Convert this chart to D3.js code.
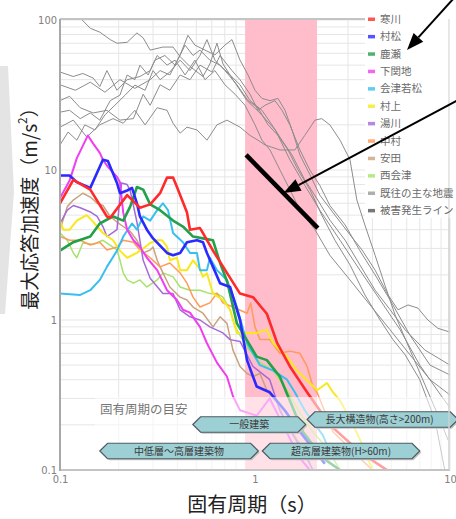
<!DOCTYPE html>
<html>
<head>
<meta charset="utf-8">
<script src="https://cdn.jsdelivr.net/npm/d3@7"></script>
<style>
  body { margin: 0; background: #fff; }
  svg { display: block; }
</style>
</head>
<body>
<script>
// ---- data: [period (s), max response acceleration (m/s2)] ----
const stationNames = ["寒川", "村松", "鹿瀬", "下関地", "会津若松", "村上", "湯川", "中村", "安田", "西会津"];
const stationColors = ["#ff2a2a", "#2a2aff", "#22a04a", "#f03ef0", "#38bff0", "#f8e81c", "#a56ad8", "#ff9a5a", "#c9a27e", "#a6e36a"];
const stationWidths = [2.6, 2.6, 2.6, 2, 2, 2, 1.5, 1.5, 1.5, 1.5];

const kankawa = [[0.1,6.0],[0.117,8.6],[0.143,7.4],[0.174,4.9],[0.181,4.8],[0.221,6.8],[0.257,5.6],[0.29,5.9],[0.326,7.0],[0.354,8.9],[0.38,8.9],[0.398,7.7],[0.448,5.2],[0.464,4.0],[0.522,4.1],[0.541,3.8],[0.609,2.9],[0.718,2.06],[0.838,1.5],[0.977,1.42],[1.06,1.25],[1.15,1.1],[1.3,0.7],[1.51,0.49],[1.85,0.33],[2.42,0.2],[3.5,0.13],[4.75,0.1]];
const muramatsu = [[0.1,9.2],[0.112,9.2],[0.122,8.3],[0.143,7.6],[0.166,11.7],[0.176,11.5],[0.196,8.2],[0.203,7.0],[0.221,7.3],[0.234,7.6],[0.248,6.0],[0.257,4.9],[0.279,4.0],[0.3,3.5],[0.354,2.8],[0.38,2.7],[0.413,2.8],[0.448,3.3],[0.504,3.4],[0.541,3.3],[0.567,2.8],[0.609,2.26],[0.662,1.76],[0.745,1.66],[0.838,1.0],[0.91,0.54],[1.02,0.36],[1.19,0.33],[1.42,0.25],[1.7,0.18],[2.28,0.11]];
const kanose = [[0.1,2.9],[0.117,3.3],[0.143,3.6],[0.16,4.4],[0.187,4.9],[0.211,4.6],[0.229,5.7],[0.248,7.7],[0.267,7.4],[0.29,5.9],[0.326,5.4],[0.38,4.6],[0.427,4.2],[0.481,3.6],[0.541,3.5],[0.609,3.4],[0.662,2.4],[0.72,1.8],[0.808,0.95],[1.02,0.57],[1.15,0.54],[1.34,0.42],[1.51,0.29],[1.76,0.18],[2.23,0.12],[2.73,0.1]];
const shimoseki = [[0.1,6.5],[0.112,8.5],[0.122,12],[0.139,17],[0.148,15],[0.16,13],[0.166,11.7],[0.176,10.5],[0.196,9],[0.203,8.3],[0.211,5.2],[0.221,4.0],[0.238,3.4],[0.257,3.07],[0.279,2.6],[0.315,2.15],[0.354,1.58],[0.398,1.36],[0.427,1.17],[0.464,1.12],[0.522,0.9],[0.567,0.7],[0.638,0.52],[0.718,0.42],[0.771,0.31],[0.838,0.25],[1.02,0.23],[1.19,0.3],[1.39,0.2],[1.7,0.12],[1.91,0.1]];
const aizuwakamatsu = [[0.1,1.5],[0.127,1.47],[0.143,1.58],[0.16,1.85],[0.174,2.26],[0.196,2.9],[0.211,3.6],[0.234,4.4],[0.248,4.0],[0.267,4.9],[0.29,4.6],[0.315,5.4],[0.337,6.0],[0.358,5.4],[0.38,3.8],[0.427,3.3],[0.464,2.8],[0.504,2.8],[0.522,2.15],[0.567,2.15],[0.587,2.6],[0.638,2.15],[0.718,1.85],[0.808,1.22],[0.91,0.7],[1.06,0.5],[1.24,0.46],[1.46,0.4],[1.6,0.33],[1.8,0.25],[2.23,0.17],[2.5,0.12]];
const murakami = [[0.1,4.6],[0.104,4.0],[0.112,4.0],[0.122,4.6],[0.137,5.0],[0.146,4.6],[0.155,4.2],[0.166,3.8],[0.187,3.4],[0.203,2.9],[0.221,2.6],[0.248,2.8],[0.267,3.0],[0.29,3.26],[0.315,3.4],[0.334,3.4],[0.354,3.07],[0.366,2.5],[0.398,2.6],[0.413,2.15],[0.448,2.15],[0.481,2.5],[0.52,2.2],[0.541,1.94],[0.567,2.05],[0.609,1.5],[0.685,1.36],[0.745,1.17],[0.808,0.82],[0.91,0.82],[1.02,0.82],[1.15,0.86],[1.24,0.7],[1.34,0.63],[1.46,0.57],[1.64,0.46],[1.91,0.38],[2.08,0.34],[2.34,0.38],[2.51,0.33],[2.73,0.29],[3.07,0.22],[3.45,0.16],[3.89,0.11],[4.02,0.1]];
const yukawa = [[0.1,4.4],[0.109,5.4],[0.117,5.8],[0.127,5.6],[0.143,5.25],[0.155,4.9],[0.166,4.2],[0.174,3.6],[0.196,4.0],[0.203,6.6],[0.207,8.2],[0.221,8.0],[0.229,7.3],[0.248,4.5],[0.267,2.5],[0.29,1.9],[0.337,1.5],[0.38,1.5],[0.413,1.17],[0.464,1.05],[0.522,1.0],[0.587,0.9],[0.685,0.82],[0.745,0.74],[0.838,0.72],[0.977,0.49],[1.19,0.4],[1.34,0.25],[1.57,0.17],[1.85,0.12],[1.98,0.1]];
const nakamura = [[0.1,3.6],[0.112,3.4],[0.127,3.4],[0.143,3.16],[0.16,3.3],[0.174,2.93],[0.196,3.07],[0.211,3.4],[0.238,3.3],[0.257,2.93],[0.29,2.6],[0.326,2.26],[0.366,2.4],[0.413,2.06],[0.448,1.76],[0.481,1.42],[0.522,1.22],[0.587,1.3],[0.638,1.51],[0.685,1.3],[0.771,1.22],[0.91,1.11],[0.95,1.3],[1.0,0.9],[1.06,0.74],[1.19,0.74],[1.34,0.6],[1.51,0.62],[1.7,0.6],[1.85,0.49],[1.98,0.36],[2.08,0.33],[2.51,0.18],[3.45,0.12],[4.0,0.1]];
const yasuda = [[0.1,4.0],[0.109,5.7],[0.117,6.3],[0.131,7.0],[0.143,6.6],[0.155,6.0],[0.166,5.8],[0.181,4.9],[0.196,4.5],[0.211,4.2],[0.229,3.9],[0.248,3.4],[0.267,2.8],[0.29,2.93],[0.3,3.07],[0.315,2.5],[0.337,2.06],[0.366,1.66],[0.413,1.42],[0.448,1.36],[0.481,1.22],[0.541,1.11],[0.609,0.9],[0.662,1.05],[0.718,0.95],[0.771,0.63],[0.838,0.49],[0.91,0.44],[0.977,0.42],[1.06,0.44],[1.15,0.34],[1.3,0.28],[1.46,0.2],[1.7,0.15],[1.91,0.11]];
const nishiaizu = [[0.1,3.8],[0.109,3.4],[0.117,2.8],[0.122,2.6],[0.131,3.26],[0.148,3.2],[0.166,3.4],[0.196,2.93],[0.203,2.5],[0.211,2.06],[0.221,1.85],[0.238,1.76],[0.257,1.85],[0.279,1.66],[0.315,1.85],[0.337,2.06],[0.38,1.94],[0.413,1.66],[0.464,1.58],[0.522,1.58],[0.587,1.5],[0.638,1.5],[0.685,1.42],[0.745,1.17],[0.79,0.9],[0.91,0.66],[1.06,0.52],[1.24,0.46],[1.46,0.34],[1.7,0.24],[1.98,0.18],[2.34,0.14],[2.73,0.1]];

// past major earthquakes (gray)
const past1 = [[0.1,126],[0.13,100],[0.143,88],[0.16,83],[0.181,74],[0.196,70],[0.221,71],[0.248,82],[0.267,76],[0.29,63],[0.337,66],[0.38,66],[0.413,57],[0.464,49],[0.541,42],[0.587,51],[0.638,70],[0.685,51],[0.771,40],[0.91,29],[1.06,24],[1.27,18.5],[1.51,11.7],[1.8,7.9],[2.15,5.4],[2.73,3.4],[3.45,2.15],[4.38,1.36],[5.55,0.86],[7.0,0.5],[8.9,0.32],[10,0.26]];
const past2 = [[0.1,45],[0.117,42],[0.131,44],[0.148,41],[0.16,36],[0.174,46],[0.196,34],[0.221,40],[0.257,42],[0.29,46],[0.315,58],[0.354,50],[0.389,54],[0.438,43],[0.492,54],[0.554,40],[0.623,46],[0.701,37],[0.79,32],[0.889,27],[1.0,20],[1.086,15.8],[1.194,13.6],[1.343,10],[1.51,7.4],[1.7,5.4],[2.03,4.0],[2.42,2.7],[3.07,1.85],[3.89,1.26],[4.93,0.86],[6.24,0.585],[7.9,0.4],[10,0.316]];
const past3 = [[0.1,29],[0.112,31],[0.127,26],[0.148,24],[0.174,25],[0.203,21.5],[0.238,22],[0.267,32],[0.29,27],[0.326,37],[0.366,34],[0.413,43],[0.464,40],[0.522,50],[0.602,45],[0.662,58],[0.762,46],[0.838,40],[0.943,32],[1.036,25],[1.125,27],[1.266,29],[1.375,25],[1.51,20],[1.7,13.6],[1.91,10],[2.15,7.9],[2.42,5.8],[2.9,4.3],[3.45,2.9],[4.13,2.0],[4.93,1.36],[6.24,0.79],[7.9,0.5],[10,0.43]];
const past4 = [[0.1,19.3],[0.117,21.5],[0.137,16.6],[0.16,20],[0.187,22],[0.211,20.5],[0.242,25],[0.273,20],[0.315,26],[0.354,25],[0.38,20.5],[0.413,17.6],[0.448,19.3],[0.504,18.5],[0.567,15.8],[0.638,20],[0.718,21.5],[0.838,19.3],[0.943,17],[1.036,15.8],[1.125,14.7],[1.343,13.6],[1.6,13.6],[1.8,17],[2.03,21.5],[2.2,22],[2.42,20],[2.73,15.8],[3.07,11.7],[3.33,6.3],[3.66,4.3],[4.13,2.7],[4.64,1.7],[5.23,1.08],[6.24,0.63],[7.44,0.37],[8.9,0.215],[9.78,0.158]];
const past5 = [[0.1,24.3],[0.112,25],[0.127,22],[0.143,24],[0.16,21.5],[0.181,29],[0.203,31.6],[0.221,43],[0.242,40],[0.257,50],[0.283,43],[0.307,54],[0.345,58],[0.389,50],[0.438,68],[0.481,58],[0.522,63],[0.587,54],[0.662,50],[0.745,43],[0.838,37],[0.943,29],[1.086,25],[1.222,20],[1.375,15.8],[1.548,12.6],[1.8,8.6],[2.1,6.3],[2.42,4.64],[2.9,3.4],[3.45,2.33],[4.13,1.58],[4.93,1.17],[5.89,0.86],[7.44,0.63],[10,0.5]];
const past6 = [[0.1,14.7],[0.11,17.9],[0.122,15.8],[0.134,20],[0.151,18.5],[0.17,23.3],[0.191,27],[0.216,31.6],[0.242,36.8],[0.273,34],[0.3,46],[0.326,40],[0.366,45],[0.413,54],[0.464,46],[0.522,58],[0.567,74],[0.623,54],[0.701,46],[0.808,37],[0.921,29],[1.036,26],[1.166,20],[1.312,17],[1.477,13.6],[1.662,10],[1.913,7.4],[2.2,5.0],[2.57,3.4],[3.07,2.33],[3.66,1.47],[4.38,1.0],[5.1,0.74],[5.89,0.585],[7.0,0.4],[8.38,0.215],[9.4,0.1]];
const past7 = [[0.1,37],[0.12,34],[0.143,38.5],[0.17,33],[0.203,40],[0.242,35],[0.29,40],[0.326,46],[0.366,43],[0.413,58.5],[0.453,79],[0.492,68],[0.554,63],[0.623,58.5],[0.701,68],[0.762,74],[0.838,54],[0.921,43],[1.0,34],[1.086,30],[1.194,29],[1.312,30],[1.425,25],[1.548,18.5],[1.7,12.6],[1.913,9.3],[2.15,6.8],[2.57,5.0],[3.07,3.7],[3.54,2.93],[4.13,2.15],[4.81,1.47],[5.41,1.17],[6.09,1.26],[6.85,1.2],[7.7,1.0],[8.67,0.88],[10,0.83]];

const damageLine = [[0.9, 12.6], [2.1, 4.1]];
const periodBand = [0.89, 2.08];

const legendLabels = ["寒川", "村松", "鹿瀬", "下関地", "会津若松", "村上", "湯川", "中村", "安田", "西会津", "既往の主な地震", "被害発生ライン"];

// building type period ranges (s)
const bldgLabels = ["一般建築", "長大構造物(高さ>200m)", "中低層～高層建築物", "超高層建築物(H>60m)"];
const bldgRanges = [[0.48, 1.82], [1.85, 11], [0.16, 1.04], [1.09, 7.0]];
const bldgRow = [0, 0, 1, 1];

// ---- chart ----
const width = 456, height = 519;
const x = d3.scaleLog().domain([0.1, 10]).range([60, 450]);
const y = d3.scaleLog().domain([0.1, 100]).range([470, 20]);

const svg = d3.select("body").append("svg")
    .attr("width", width)
    .attr("height", height);

svg.append("rect").attr("width", width).attr("height", height).attr("fill", "#fff");

// left chevron decoration
svg.append("polygon")
    .attr("points", "0,66 8,66 14,192 5,314 0,314")
    .attr("fill", "#e4e4e4");

svg.append("defs").append("clipPath").attr("id", "plot")
    .append("rect").attr("x", 60).attr("y", 20).attr("width", 390).attr("height", 450);

// grid
const xGrid = [], yGrid = [];
[0.1, 1].forEach(d => { for (let k = 1; k <= 9; k++) xGrid.push(k * d); });
xGrid.push(10);
[0.1, 1, 10].forEach(d => { for (let k = 1; k <= 9; k++) yGrid.push(k * d); });
yGrid.push(100);

const grid = svg.append("g");
grid.selectAll(".vg").data(xGrid).enter().append("line")
    .attr("x1", d => x(d)).attr("x2", d => x(d))
    .attr("y1", 20).attr("y2", 470)
    .attr("stroke", "#e6e6e6").attr("stroke-width", 1);
grid.selectAll(".hg").data(yGrid).enter().append("line")
    .attr("x1", 60).attr("x2", 450)
    .attr("y1", d => y(d)).attr("y2", d => y(d))
    .attr("stroke", "#e6e6e6").attr("stroke-width", 1);

// 1-2 s band
svg.append("rect")
    .attr("x", x(periodBand[0])).attr("width", x(periodBand[1]) - x(periodBand[0]))
    .attr("y", 20).attr("height", 450)
    .attr("fill", "#ffbccb");

const line = d3.line().x(d => x(d[0])).y(d => y(d[1]));
const plot = svg.append("g").attr("clip-path", "url(#plot)");

const pastQuakes = [past1, past2, past3, past4, past5, past6, past7];
plot.selectAll(".past").data(pastQuakes).enter().append("path")
    .attr("d", line)
    .attr("fill", "none")
    .attr("stroke", "#8c8c8c")
    .attr("stroke-width", 1);

const stationSeries = [kankawa, muramatsu, kanose, shimoseki, aizuwakamatsu, murakami, yukawa, nakamura, yasuda, nishiaizu];
const order = d3.range(stationSeries.length).reverse();
plot.selectAll(".st").data(order).enter().append("path")
    .attr("d", i => line(stationSeries[i]))
    .attr("fill", "none")
    .attr("stroke", i => stationColors[i])
    .attr("stroke-width", i => stationWidths[i])
    .attr("stroke-linejoin", "round");

plot.append("path")
    .attr("d", line(damageLine))
    .attr("stroke", "#000")
    .attr("stroke-width", 4.5);

// faded area behind the building-type labels
svg.append("rect")
    .attr("x", 95).attr("y", 397).attr("width", 355).attr("height", 72)
    .attr("fill", "#fff").attr("opacity", 0.55);

svg.append("text")
    .attr("x", 100).attr("y", 414)
    .attr("font-family", "Noto Sans CJK JP").attr("font-size", 12.5)
    .attr("fill", "#777")
    .text("固有周期の目安");

const rowY = [424.5, 451];
const rowY2 = [419.5, 451];
const hexH = 15.5;
const hex = (x0, x1, yc, h) => {
    const a = h / 2;
    return `M${x0},${yc} L${x0 + a},${yc - a} L${x1 - a},${yc - a} L${x1},${yc} L${x1 - a},${yc + a} L${x0 + a},${yc + a} Z`;
};
const bldg = svg.append("g");
bldgLabels.forEach((label, i) => {
    const x0 = x(bldgRanges[i][0]), x1 = x(bldgRanges[i][1]);
    const yc = i === 1 ? rowY2[0] : rowY[bldgRow[i]];
    bldg.append("path").attr("d", hex(x0 + 1.5, x1 + 1.5, yc + 1.5, hexH)).attr("fill", "#c4c4c4");
    bldg.append("path").attr("d", hex(x0, x1, yc, hexH))
        .attr("fill", "#9dd0d4").attr("stroke", "#4d5b60").attr("stroke-width", 1.2);
    bldg.append("text")
        .attr("x", (x0 + Math.min(x1, 452)) / 2).attr("y", yc)
        .attr("dy", "0.36em")
        .attr("text-anchor", "middle")
        .attr("font-family", "Noto Sans CJK JP").attr("font-size", 10)
        .attr("fill", "#3a3a3a")
        .text(label);
});

// frame
const frame = svg.append("g").attr("fill", "none");
frame.append("line").attr("x1", 60).attr("x2", 450).attr("y1", 470).attr("y2", 470).attr("stroke", "#c4c4c4").attr("stroke-width", 2);
frame.append("line").attr("x1", 60).attr("x2", 450).attr("y1", 19).attr("y2", 19).attr("stroke", "#c4c4c4").attr("stroke-width", 2);
frame.append("line").attr("x1", 60).attr("x2", 60).attr("y1", 19).attr("y2", 471).attr("stroke", "#a8a8a8").attr("stroke-width", 2);
svg.append("line").attr("x1", 449).attr("x2", 449).attr("y1", 19).attr("y2", 470).attr("stroke", "#d0d0d0").attr("stroke-width", 1.5);

// legend
const legend = svg.append("g");
legend.append("rect").attr("x", 365).attr("y", 11).attr("width", 95).attr("height", 207).attr("fill", "#fff");
legend.append("line").attr("x1", 449).attr("x2", 449).attr("y1", 19).attr("y2", 218).attr("stroke", "#d8d8d8").attr("stroke-width", 1.2);
const legendColors = stationColors.concat(["#9a9a9a", "#555"]);
const item = legend.selectAll(".li").data(legendLabels).enter().append("g")
    .attr("transform", (d, i) => `translate(368, ${19 + i * 17.4})`);
item.append("rect").attr("x", 0).attr("y", -1.5).attr("width", 7).attr("height", 3.5)
    .attr("fill", (d, i) => legendColors[i]).attr("opacity", 0.8);
item.append("text").attr("x", 12).attr("dy", "0.36em")
    .attr("font-family", "Noto Sans CJK JP").attr("font-size", 10.5)
    .attr("fill", "#6a6a6a")
    .text(d => d);

// axes
const tickFont = g => g.selectAll("text")
    .attr("font-family", "DejaVu Sans Condensed").attr("font-size", 11).attr("fill", "#808080");
svg.append("g").attr("transform", "translate(59,0)")
    .call(d3.axisLeft(y).tickValues([0.1, 1, 10, 100]).tickFormat(d3.format("~g")).tickSize(0).tickPadding(2))
    .call(g => g.select(".domain").remove())
    .call(tickFont);
svg.append("g").attr("transform", "translate(0,471)")
    .call(d3.axisBottom(x).tickValues([0.1, 1, 10]).tickFormat(d3.format("~g")).tickSize(0).tickPadding(4))
    .call(g => g.select(".domain").remove())
    .call(tickFont);

// arrows
const arrow = (x1, y1, x2, y2) => {
    const a = Math.atan2(y2 - y1, x2 - x1), L = 17, W = 6.5;
    const bx = x2 - L * Math.cos(a), by = y2 - L * Math.sin(a);
    svg.append("line").attr("x1", x1).attr("y1", y1).attr("x2", bx).attr("y2", by)
        .attr("stroke", "#000").attr("stroke-width", 2);
    svg.append("polygon")
        .attr("points", [[x2, y2], [bx + W * Math.sin(a), by - W * Math.cos(a)], [bx - W * Math.sin(a), by + W * Math.cos(a)]].join(" "))
        .attr("fill", "#000");
};
arrow(454, -2, 407, 50);
const tipT = 1.4;
const frac = Math.log(tipT / damageLine[0][0]) / Math.log(damageLine[1][0] / damageLine[0][0]);
const tipA = Math.exp(Math.log(damageLine[0][1]) + frac * (Math.log(damageLine[1][1]) - Math.log(damageLine[0][1])));
arrow(462, 98, x(tipT), y(tipA));

// titles
const yTitle = svg.append("text")
    .attr("transform", "translate(28,204) rotate(-90)")
    .attr("text-anchor", "middle").attr("dominant-baseline", "central")
    .attr("font-family", "Noto Sans CJK JP").attr("font-size", 19)
    .attr("fill", "#222");
yTitle.append("tspan").text("最大応答加速度（m/s");
yTitle.append("tspan").attr("font-size", 12).attr("dy", -7).text("2");
yTitle.append("tspan").attr("dy", 7).text("）");

svg.append("text")
    .attr("x", 252).attr("y", 512)
    .attr("text-anchor", "middle")
    .attr("font-family", "Noto Sans CJK JP").attr("font-size", 20)
    .attr("fill", "#222")
    .text("固有周期（s）");
</script>
</body>
</html>
